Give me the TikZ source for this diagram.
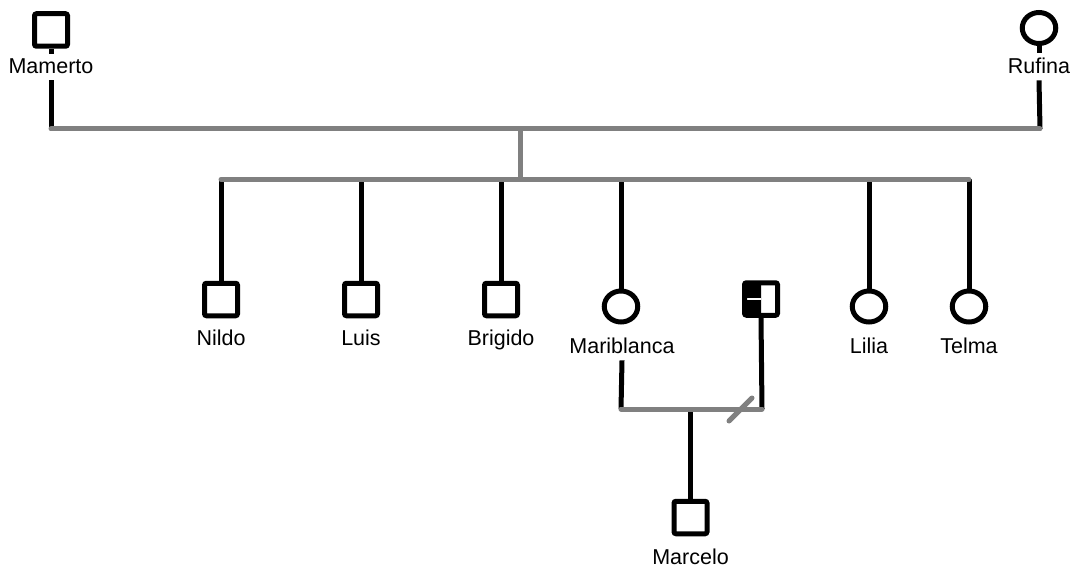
\documentclass[tikz,border=0pt]{standalone}
\usepackage{fontspec}
\setmainfont{Liberation Sans}
\usetikzlibrary{shapes.geometric}
\begin{document}
\begin{tikzpicture}[x=1pt,y=-1pt,
  male/.style={draw, rectangle, rounded corners=2pt, line width=5pt, minimum width=33pt, minimum height=32.5pt, inner sep=0pt},
  female/.style={draw, ellipse, line width=5pt, minimum width=33.5pt, minimum height=31pt, inner sep=0pt},
  lbl/.style={anchor=base, inner sep=0pt, font=\fontsize{21.5pt}{24pt}\selectfont},
  kin/.style={draw=black, line width=5pt},
  rel/.style={draw=gray, line width=5pt, line cap=round}]
\useasboundingbox (0,0) rectangle (1076,572);

% symbols
\node[male] (mam) at (51,30) {};
\node[female] (ruf) at (1039,28) {};
\node[male] (nil) at (221,299.5) {};
\node[male] (lui) at (361,299.5) {};
\node[male] (bri) at (501,299.5) {};
\node[female] (mar) at (621,306.5) {};
\node[male, path picture={
    \fill[black] (path picture bounding box.south west) rectangle (path picture bounding box.north);
    \draw[white, line width=2.5pt] ([xshift=-14pt]path picture bounding box.center) -- (path picture bounding box.center);
  }] (spo) at (761,299) {};
\node[female] (lil) at (869,306.5) {};
\node[female] (tel) at (969,306.5) {};
\node[male] (mcl) at (690.5,517.5) {};

% labels
\node[lbl] (lmam) at (51,74) {Mamerto};
\node[lbl] (lruf) at (1039,74) {Rufina};
\node[lbl] (lnil) at (221,345) {Nildo};
\node[lbl] (llui) at (361,345) {Luis};
\node[lbl] (lbri) at (501,345) {Brigido};
\node[lbl] (lmar) at (622,353) {Mariblanca};
\node[lbl] (llil) at (869,353) {Lilia};
\node[lbl] (ltel) at (969,353) {Telma};
\node[lbl] (lmcl) at (690.5,564) {Marcelo};

% junction coordinates
\coordinate (cL) at (51,129);
\coordinate (cR) at (1040,129);
\coordinate (cM) at (520.5,129);
\coordinate (sM) at (520.5,179.5);
\coordinate (sL) at (221,179.5);
\coordinate (sR) at (969,179.5);
\coordinate (pL) at (621,409);
\coordinate (pR) at (762,409);
\coordinate (pM) at (690.5,409);
\coordinate (d1) at (729,421);
\coordinate (d2) at (752,398);

% black kinship lines
\draw[kin] (mam.south) -- ++(0,5);
\draw[kin] ([yshift=-6pt]lmam.south) -- (cL);
\draw[kin] (ruf.south) -- ++(0,7);
\draw[kin] ([yshift=-6pt]lruf.south) -- (cR);
\draw[kin] (sL) -- (nil.north);
\draw[kin] (lui.north |- sL) -- (lui.north);
\draw[kin] (bri.north |- sL) -- (bri.north);
\draw[kin] (mar.north |- sL) -- (mar.north);
\draw[kin] (lil.north |- sL) -- (lil.north);
\draw[kin] (sR) -- (tel.north);
\draw[kin] ([yshift=-7pt]lmar.south) -- (pL);
\draw[kin] (spo.south) -- (pR);
\draw[kin] (pM) -- (mcl.north);

% grey relationship lines
\draw[rel] (cL) -- (cR);
\draw[rel] (cM) -- (sM);
\draw[rel] (sL) -- (sR);
\draw[rel] (pL) -- (pR);
\draw[rel] (d1) -- (d2);
\end{tikzpicture}
\end{document}
